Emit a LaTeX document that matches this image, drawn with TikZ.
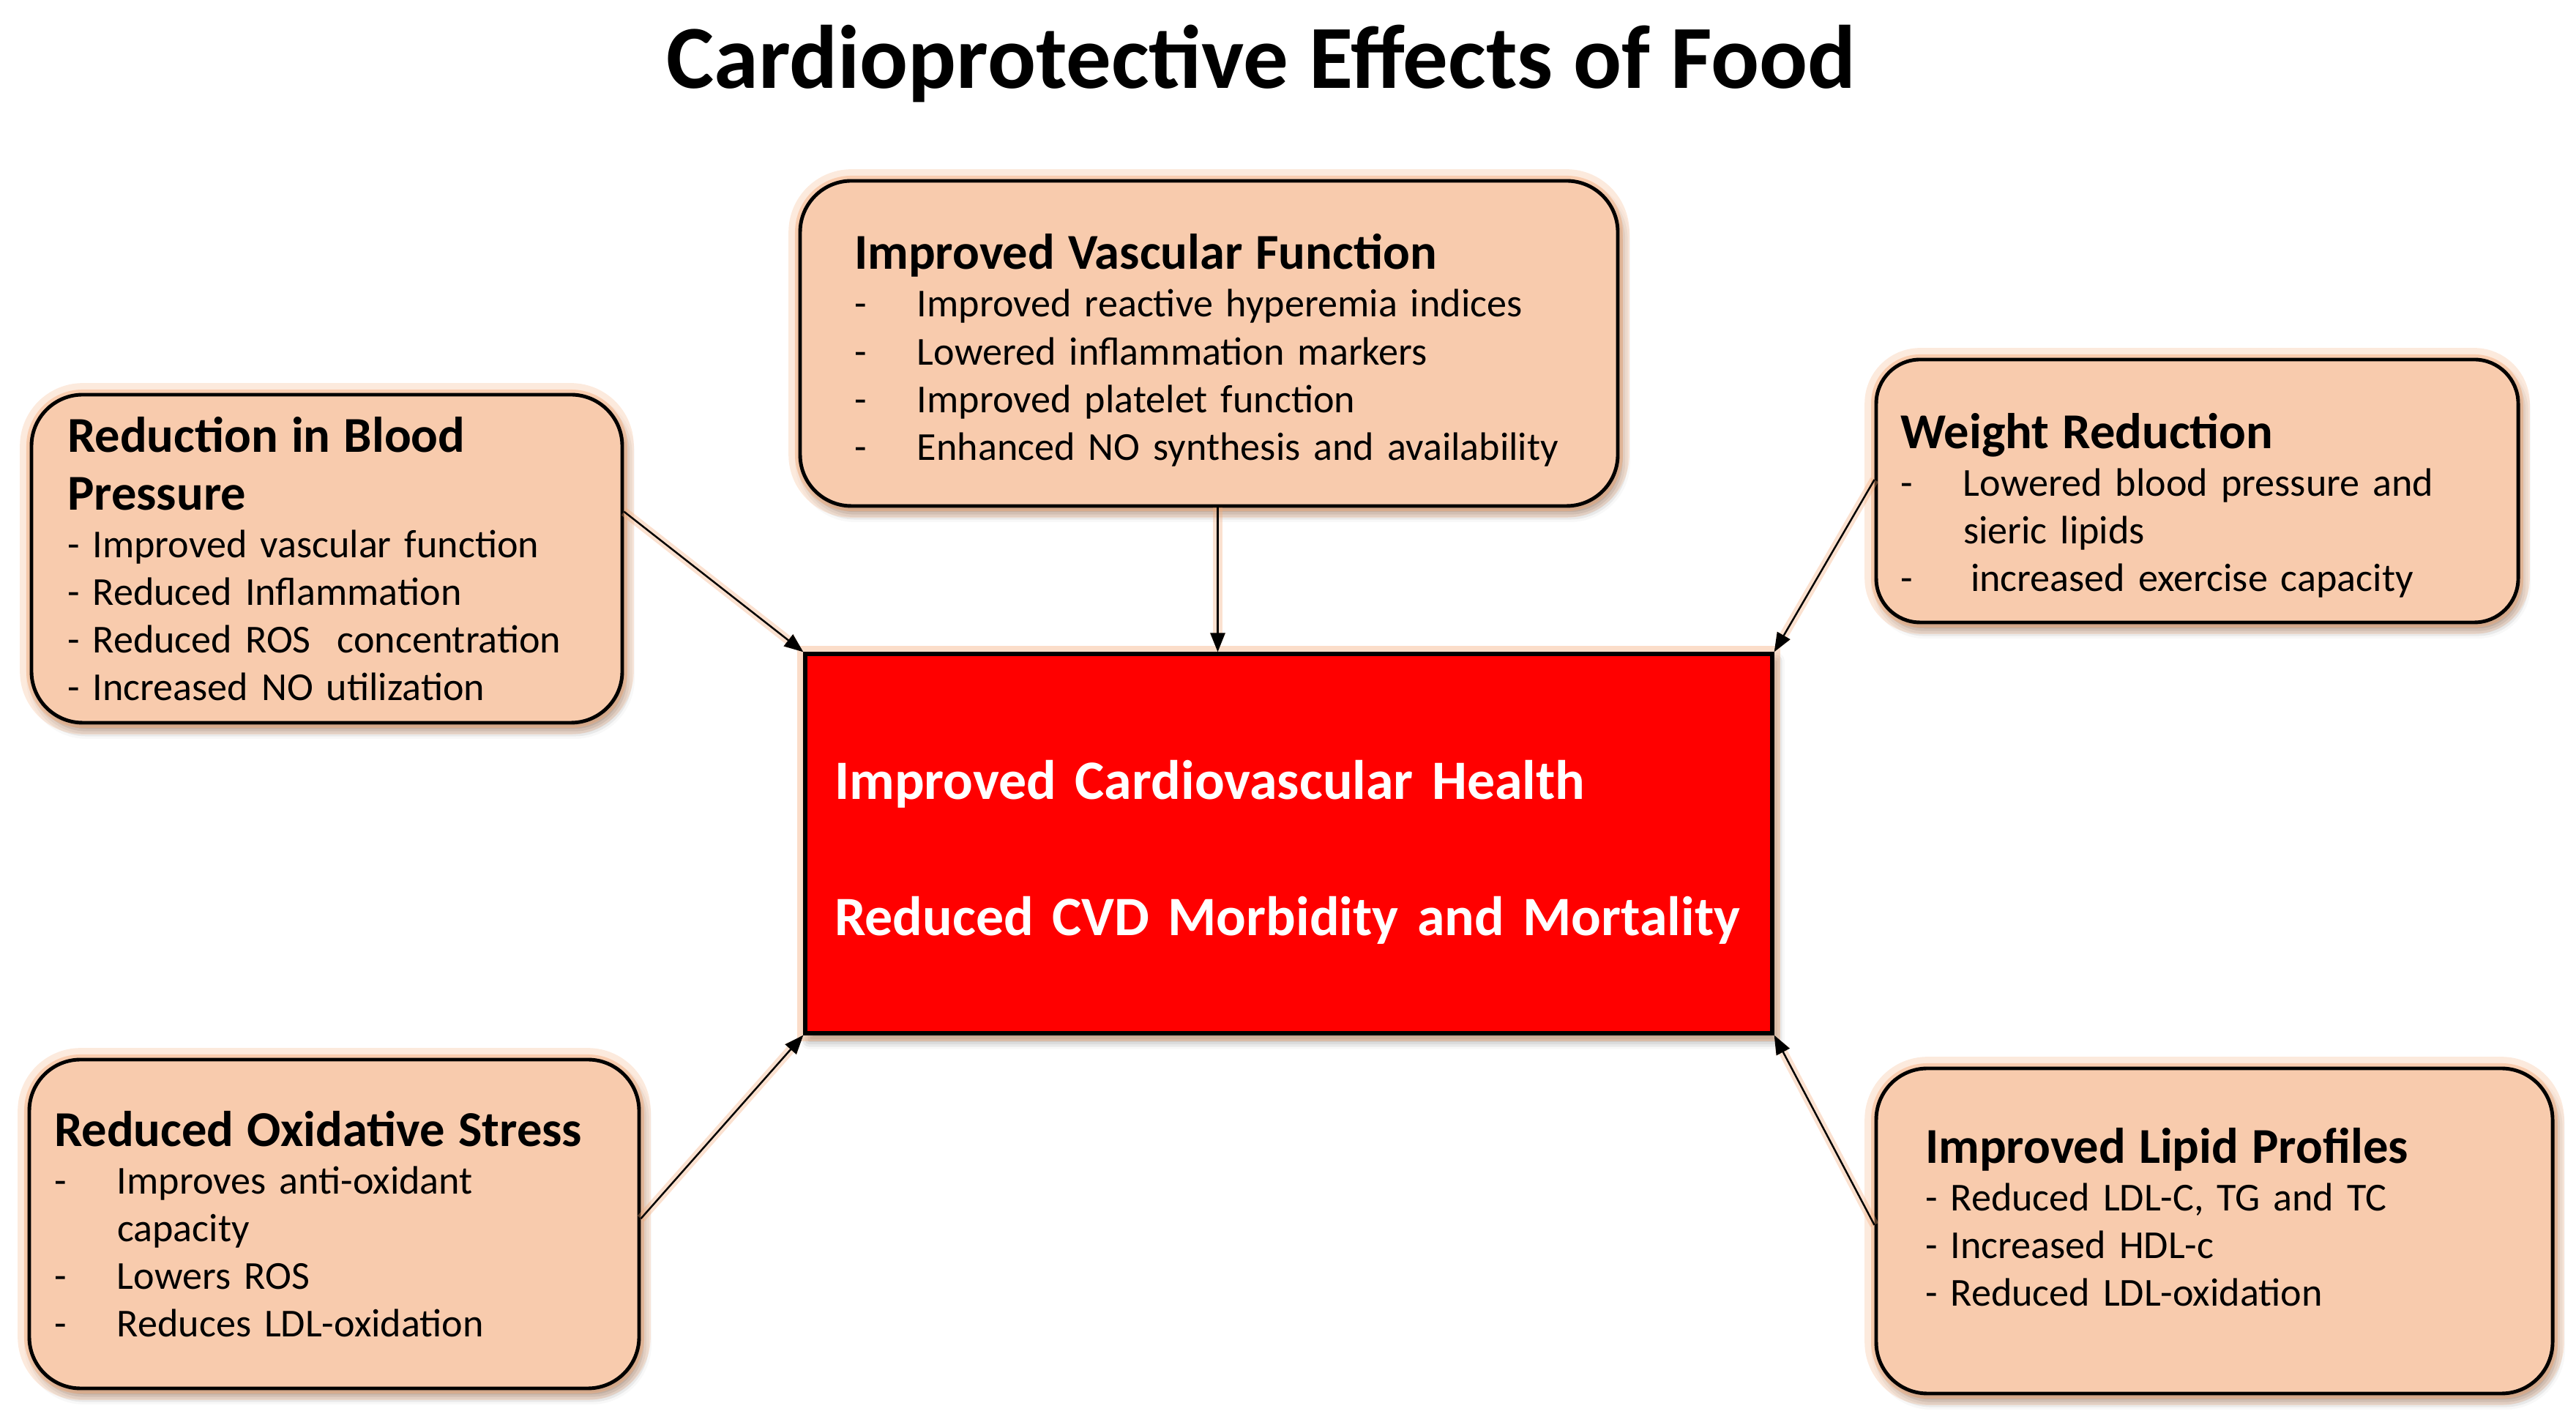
\documentclass[tikz,border=0pt]{standalone}
\usepackage{fontspec}
\setmainfont{Carlito}
\usepackage{tikz}
\usetikzlibrary{calc}
\usetikzlibrary{arrows.meta,shadows.blur}
\definecolor{peche}{RGB}{248,203,173}
\definecolor{halo}{RGB}{244,170,120}
\definecolor{rouge}{RGB}{255,0,0}

\tikzset{
  boite/.style={draw=black, line width=1.4pt, fill=peche, rounded corners=0.7cm,
    align=left, inner ysep=0pt,
    blur shadow={shadow xshift=0.05cm, shadow yshift=-0.1cm, shadow blur radius=0.12cm, shadow opacity=45},
    preaction={draw=halo, line width=9pt, draw opacity=0.25},
    preaction={draw=halo, line width=4pt, draw opacity=0.45},
    font=\fontsize{15.4}{18.5}\selectfont},
  centre/.style={draw=black, line width=1.5pt, fill=rouge, text=white, align=left,
    blur shadow={shadow xshift=0.05cm, shadow yshift=-0.1cm, shadow blur radius=0.12cm, shadow opacity=45},
    preaction={draw=halo, line width=6pt, draw opacity=0.4},
    font=\bfseries\fontsize{21.6}{26.5}\selectfont},
  fleche/.style={-{Triangle[length=0.26cm,width=0.2cm]}, line width=0.7pt,
    preaction={draw=halo, line width=3.5pt, draw opacity=0.35}},
}
\newcommand{\titre}[1]{{\bfseries\fontsize{19.5}{22.5}\selectfont #1\par}}
\newcommand{\tiret}{\makebox[0.86cm][l]{-}}

\begin{document}
\begin{tikzpicture}
\useasboundingbox (0,0) rectangle (35.19,19.46);
%					Titre :
\node[font=\bfseries\fontsize{35}{42}\selectfont, anchor=base] (entete) at (17.23,18.25) {Cardioprotective Effects of Food};
%					Boite centrale :
\node[centre, text width=12.41cm, inner xsep=0.4cm, minimum height=5.18cm] (sante) at (17.605,7.94)
  {\rule{0pt}{22pt}\mbox{Improved Cardiovascular Health}\\[26.5pt]\mbox{Reduced CVD Morbidity and Mortality}};
%					Boites des effets :
\node[boite, text width=9.69cm, inner xsep=0.74cm, minimum height=4.44cm] (vasc) at (16.515,14.77)
  {\titre{\rule{0pt}{19pt}Improved Vascular Function}
   \tiret Improved reactive hyperemia indices\\
   \tiret Lowered inflammation markers\\
   \tiret Improved platelet function\\
   \tiret Enhanced NO synthesis and availability};
\node[boite, text width=7.09cm, inner xsep=0.49cm, minimum height=4.48cm] (tension) at (4.465,11.83)
  {\titre{Reduction in Blood\\Pressure}
   - Improved vascular function\\
   - Reduced Inflammation\\
   - Reduced ROS~ concentration\\
   - Increased NO utilization};
\node[boite, text width=8.11cm, inner xsep=0.33cm, minimum height=3.59cm, rounded corners=0.6cm] (poids) at (30.015,12.755)
  {\titre{\rule{0pt}{25pt}Weight Reduction}
   \tiret Lowered blood pressure and\\
   \hspace*{0.86cm}sieric lipids\\
   \tiret\hspace{0.1cm}increased exercise capacity};
\node[boite, text width=7.65cm, inner xsep=0.34cm, minimum height=4.49cm] (oxyd) at (4.565,2.745)
  {\titre{Reduced Oxidative Stress}
   \tiret Improves anti-oxidant\\
   \hspace*{0.86cm}capacity\\
   \tiret Lowers ROS\\
   \tiret Reduces LDL-oxidation};
\node[boite, text width=7.9cm, inner xsep=0.67cm, minimum height=4.44cm] (lipide) at (30.25,2.65)
  {\titre{Improved Lipid Profiles}
   - Reduced LDL-C, TG and TC\\
   - Increased HDL-c\\
   - Reduced LDL-oxidation\rule[-10.7pt]{0pt}{1pt}};
%					Fleches :
\draw[fleche] ([xshift=0.12cm]vasc.south) -- ([xshift=0.12cm]vasc.south |- sante.north);
\draw[fleche] (tension.9) -- (sante.north west);
\draw[fleche] (poids.178) -- (sante.north east);
\draw[fleche] (oxyd.1) -- (sante.south west);
\draw[fleche] (lipide.179) -- (sante.south east);
\end{tikzpicture}
\end{document}
